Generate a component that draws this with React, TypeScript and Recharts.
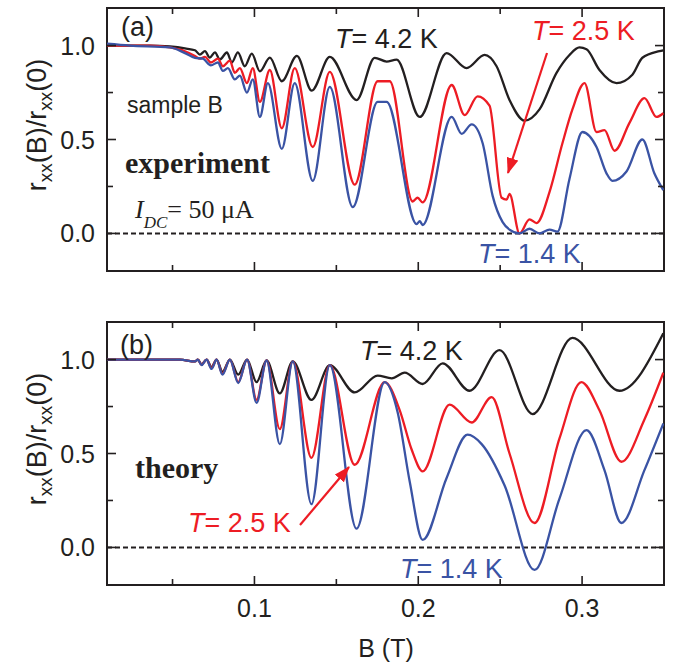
import { LineChart, Line, XAxis, YAxis, ReferenceLine, ReferenceArea } from 'recharts'

type Pt = [number, number]

// [B (T), rxx(B)/rxx(0)]
const expBlack: Pt[] = [
  [0.01, 1.0], [0.0362, 1.0], [0.0484, 0.995], [0.0576, 0.985], [0.0637, 0.975], [0.0667, 0.952],
  [0.0698, 0.97], [0.0728, 0.936], [0.0759, 0.964], [0.0789, 0.926], [0.0832, 0.963], [0.0862, 0.91],
  [0.0899, 0.964], [0.0941, 0.89], [0.0984, 0.957], [0.1033, 0.863], [0.1094, 0.936], [0.1167, 0.81],
  [0.1259, 0.945], [0.135, 0.76], [0.146, 0.94], [0.1624, 0.71], [0.1734, 0.935], [0.1807, 0.915],
  [0.1868, 0.925], [0.2009, 0.62], [0.2173, 0.96], [0.2295, 0.88], [0.2405, 0.95], [0.2478, 0.89],
  [0.2557, 0.71], [0.2649, 0.6], [0.274, 0.66], [0.2844, 0.855], [0.2923, 0.95], [0.2984, 0.99],
  [0.3027, 0.98], [0.3106, 0.87], [0.321, 0.8], [0.3307, 0.845], [0.3368, 0.935], [0.3472, 0.97],
  [0.3496, 0.975],
]

const expRed: Pt[] = [
  [0.01, 1.0], [0.0362, 1.0], [0.0484, 0.99], [0.0576, 0.97], [0.0637, 0.945], [0.0667, 0.93],
  [0.0698, 0.94], [0.0734, 0.91], [0.0777, 0.93], [0.0807, 0.89], [0.085, 0.92], [0.088, 0.855],
  [0.0911, 0.88], [0.0954, 0.8], [0.099, 0.88], [0.1033, 0.7], [0.1094, 0.87], [0.1167, 0.56],
  [0.1246, 0.88], [0.1356, 0.46], [0.146, 0.86], [0.1612, 0.26], [0.1752, 0.81], [0.1826, 0.81],
  [0.1966, 0.17], [0.1996, 0.19], [0.2027, 0.165], [0.2204, 0.79], [0.2283, 0.63], [0.2362, 0.73],
  [0.2435, 0.68], [0.2509, 0.19], [0.2539, 0.18], [0.2557, 0.21], [0.2618, 0.0], [0.2679, 0.075],
  [0.2722, 0.055], [0.2801, 0.22], [0.288, 0.48], [0.2941, 0.66], [0.3015, 0.8], [0.3088, 0.54],
  [0.3137, 0.55], [0.3198, 0.44], [0.329, 0.59], [0.3381, 0.72], [0.3454, 0.62], [0.3496, 0.64],
]

const expBlue: Pt[] = [
  [0.01, 1.01], [0.024, 1.0], [0.0484, 0.99], [0.0576, 0.96], [0.0637, 0.935], [0.0685, 0.93],
  [0.0734, 0.895], [0.0777, 0.91], [0.0807, 0.865], [0.0838, 0.88], [0.088, 0.82], [0.0911, 0.84],
  [0.0954, 0.75], [0.099, 0.82], [0.1033, 0.62], [0.1082, 0.8], [0.1167, 0.45], [0.1246, 0.8],
  [0.1356, 0.28], [0.146, 0.78], [0.16, 0.14], [0.1752, 0.7], [0.1807, 0.7], [0.199, 0.05],
  [0.2009, 0.065], [0.2027, 0.045], [0.2204, 0.62], [0.2265, 0.53], [0.2326, 0.58], [0.2393, 0.48],
  [0.2454, 0.2], [0.2515, 0.06], [0.2557, 0.02], [0.2618, 0.0], [0.2679, 0.025], [0.274, 0.0],
  [0.2801, 0.02], [0.285, 0.01], [0.2923, 0.29], [0.3002, 0.54], [0.3088, 0.46], [0.3149, 0.32],
  [0.3185, 0.28], [0.3271, 0.33], [0.3368, 0.5], [0.3441, 0.32], [0.3496, 0.23],
]

const thBlack: Pt[] = [
  [0.01, 1.0], [0.0545, 1.0], [0.0637, 0.99], [0.0655, 1.0], [0.0677, 0.975], [0.0708, 1.0],
  [0.0738, 0.96], [0.0769, 1.0], [0.0805, 0.935], [0.085, 1.0], [0.0901, 0.92], [0.0955, 1.0],
  [0.1013, 0.88], [0.1074, 0.995], [0.1155, 0.82], [0.1234, 0.99], [0.1348, 0.785], [0.146, 0.97],
  [0.1612, 0.825], [0.1752, 0.915], [0.1838, 0.9], [0.1917, 0.93], [0.2027, 0.87], [0.2149, 0.98],
  [0.2313, 0.834], [0.2496, 1.05], [0.2698, 0.71], [0.2941, 1.115], [0.3228, 0.834], [0.3496, 1.14],
]

const thRed: Pt[] = [
  [0.01, 1.0], [0.0545, 1.0], [0.0637, 0.99], [0.0655, 1.0], [0.0677, 0.972], [0.0708, 1.0],
  [0.0738, 0.955], [0.0769, 1.0], [0.0805, 0.925], [0.085, 1.0], [0.0901, 0.88], [0.0955, 1.0],
  [0.1013, 0.785], [0.1074, 0.995], [0.1155, 0.63], [0.1234, 0.99], [0.1348, 0.477], [0.146, 0.97],
  [0.1612, 0.44], [0.1795, 0.88], [0.1887, 0.73], [0.196, 0.52], [0.2027, 0.405], [0.2191, 0.76],
  [0.2326, 0.665], [0.2448, 0.8], [0.2557, 0.5], [0.271, 0.13], [0.2862, 0.58], [0.2996, 0.88],
  [0.3106, 0.73], [0.324, 0.456], [0.338, 0.68], [0.3496, 0.93],
]

const thBlue: Pt[] = [
  [0.01, 1.0], [0.0545, 1.0], [0.0637, 0.99], [0.0655, 1.0], [0.0677, 0.97], [0.0708, 1.0],
  [0.0738, 0.95], [0.0769, 1.0], [0.0805, 0.92], [0.085, 1.0], [0.0901, 0.875], [0.0955, 1.0],
  [0.1013, 0.77], [0.1074, 0.995], [0.1155, 0.55], [0.1234, 0.99], [0.1348, 0.23], [0.146, 0.97],
  [0.1623, 0.1], [0.1795, 0.88], [0.1874, 0.72], [0.1948, 0.35], [0.2027, 0.04], [0.2173, 0.37],
  [0.2301, 0.6], [0.2387, 0.55], [0.2527, 0.33], [0.271, -0.12], [0.2862, 0.26], [0.3027, 0.624],
  [0.3137, 0.41], [0.324, 0.13], [0.338, 0.41], [0.3496, 0.66],
]

const X_TICKS = [0.05, 0.1, 0.15, 0.2, 0.25, 0.3]
const Y_TICKS = [0, 0.25, 0.5, 0.75, 1.0]

const BLACK = '#231f20'
const RED = '#ed1c24'
const BLUE = '#3a53a4'
const SANS = '"Liberation Sans", Arial, sans-serif'
const SERIF = '"Liberation Serif", "Times New Roman", serif'

const PLOT_W = 557
const PLOT_H = 263

const toRows = (pts: Pt[]) => pts.map(([b, r]) => ({ b, r }))

function XTick(props: any) {
  const { x, y, payload, labels } = props
  const v = payload.value as number
  const major = Math.abs(v * 10 - Math.round(v * 10)) < 1e-6
  const len = major ? 9 : 6
  return (
    <g>
      <line x1={x} x2={x} y1={y} y2={y - len} stroke={BLACK} strokeWidth={1.6} />
      <line x1={x} x2={x} y1={y - PLOT_H} y2={y - PLOT_H + len} stroke={BLACK} strokeWidth={1.6} />
      {labels && major && (
        <text x={x} y={y + 32} textAnchor="middle" fontSize={25} fontFamily={SANS} fill={BLACK}>
          {v.toFixed(1)}
        </text>
      )}
    </g>
  )
}

function YTick(props: any) {
  const { x, y, payload } = props
  const v = payload.value as number
  const major = Math.abs(v * 2 - Math.round(v * 2)) < 1e-6
  const len = major ? 9 : 6
  return (
    <g>
      <line x1={x} x2={x + len} y1={y} y2={y} stroke={BLACK} strokeWidth={1.6} />
      <line x1={x + PLOT_W} x2={x + PLOT_W - len} y1={y} y2={y} stroke={BLACK} strokeWidth={1.6} />
      {major && (
        <text x={x - 12} y={y + 9} textAnchor="end" fontSize={25} fontFamily={SANS} fill={BLACK}>
          {v.toFixed(1)}
        </text>
      )}
    </g>
  )
}

function Panel({ curves, height, xAxisHeight, labels }: {
  curves: [Pt[], string][]
  height: number
  xAxisHeight: number
  labels: boolean
}) {
  return (
    <LineChart width={677} height={height} margin={{ top: 8, right: 13, bottom: 0, left: 0 }}>
      <XAxis
        dataKey="b"
        type="number"
        domain={[0.01, 0.35]}
        allowDataOverflow
        ticks={X_TICKS}
        interval={0}
        height={xAxisHeight}
        axisLine={false}
        tickLine={false}
        tickSize={0}
        tickMargin={0}
        tick={(p: any) => <XTick {...p} labels={labels} />}
      />
      <YAxis
        type="number"
        domain={[-0.2, 1.2]}
        allowDataOverflow
        ticks={Y_TICKS}
        interval={0}
        width={107}
        axisLine={false}
        tickLine={false}
        tickSize={0}
        tickMargin={0}
        tick={(p: any) => <YTick {...p} />}
      />
      <ReferenceLine y={0} stroke={BLACK} strokeWidth={2} strokeDasharray="5 3" />
      {curves.map(([pts, color], i) => (
        <Line
          key={i}
          data={toRows(pts)}
          dataKey="r"
          type="monotone"
          stroke={color}
          strokeWidth={2.3}
          dot={false}
          isAnimationActive={false}
        />
      ))}
      <ReferenceArea x1={0.01} x2={0.35} y1={-0.2} y2={1.2} fill="none" stroke={BLACK} strokeWidth={2} ifOverflow="visible" />
    </LineChart>
  )
}

function YLabel({ cy }: { cy: number }) {
  return (
    <text transform={`translate(46,${cy}) rotate(-90)`} textAnchor="middle" fontSize={27} fontFamily={SANS} fill={BLACK}>
      r<tspan fontSize={19} dy={6}>xx</tspan>
      <tspan dy={-6}>(B)/r</tspan>
      <tspan fontSize={19} dy={6}>xx</tspan>
      <tspan dy={-6}>(0)</tspan>
    </text>
  )
}

function TLabel({ x, y, color, value }: { x: number; y: number; color: string; value: string }) {
  return (
    <text x={x} y={y} fontSize={27} fontFamily={SANS} fill={color}>
      <tspan fontStyle="italic">T</tspan>= {value} K
    </text>
  )
}

export default function App() {
  return (
    <div style={{ position: 'absolute', left: 0, top: 0, width: 677, height: 664, background: '#fff' }}>
      <div style={{ position: 'absolute', left: 0, top: 0 }}>
        <Panel curves={[[expBlack, BLACK], [expRed, RED], [expBlue, BLUE]]} height={290} xAxisHeight={19} labels={false} />
      </div>
      <div style={{ position: 'absolute', left: 0, top: 314 }}>
        <Panel curves={[[thBlack, BLACK], [thRed, RED], [thBlue, BLUE]]} height={350} xAxisHeight={79} labels />
      </div>
      <svg width={677} height={664} style={{ position: 'absolute', left: 0, top: 0, pointerEvents: 'none' }}>
        <defs>
          <marker id="arrowRed" markerUnits="userSpaceOnUse" markerWidth={16} markerHeight={12} refX={15} refY={6} orient="auto">
            <path d="M0,0 L16,6 L0,12 Z" fill={RED} />
          </marker>
        </defs>
        <YLabel cy={125} />
        <YLabel cy={439} />
        <text x={386} y={657} textAnchor="middle" fontSize={25} fontFamily={SANS} fill={BLACK}>B (T)</text>

        <text x={121} y={36} fontSize={27} fontFamily={SANS} fill={BLACK}>(a)</text>
        <TLabel x={335} y={48} color={BLACK} value="4.2" />
        <TLabel x={532} y={40} color={RED} value="2.5" />
        <TLabel x={478} y={263} color={BLUE} value="1.4" />
        <text x={127} y={113} fontSize={23} fontFamily={SANS} fill={BLACK}>sample B</text>
        <text x={125} y={173} fontSize={30} fontWeight="bold" fontFamily={SERIF} fill={BLACK}>experiment</text>
        <text x={135} y={218} fontSize={26} fontFamily={SERIF} fill={BLACK}>
          <tspan fontStyle="italic">I</tspan>
          <tspan fontStyle="italic" fontSize={17} dy={10}>DC</tspan>
          <tspan dy={-10}>= 50 μA</tspan>
        </text>
        <line x1={547} y1={53} x2={508} y2={173} stroke={RED} strokeWidth={2.2} markerEnd="url(#arrowRed)" />

        <text x={120} y={354} fontSize={27} fontFamily={SANS} fill={BLACK}>(b)</text>
        <TLabel x={360} y={360} color={BLACK} value="4.2" />
        <text x={135} y={478} fontSize={30} fontWeight="bold" fontFamily={SERIF} fill={BLACK}>theory</text>
        <TLabel x={188} y={532} color={RED} value="2.5" />
        <TLabel x={400} y={578} color={BLUE} value="1.4" />
        <line x1={300} y1={525} x2={349} y2={467} stroke={RED} strokeWidth={2.2} markerEnd="url(#arrowRed)" />
      </svg>
    </div>
  )
}
